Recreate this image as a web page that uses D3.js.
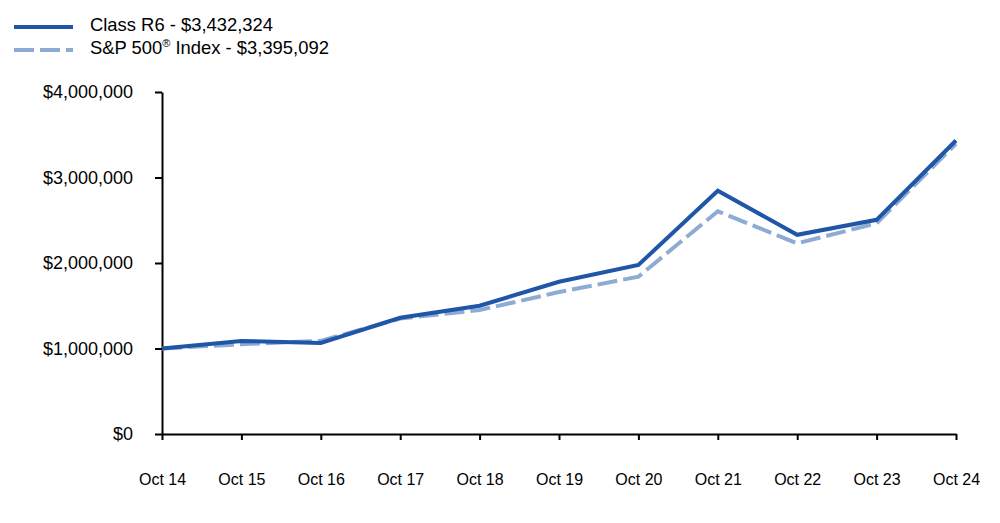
<!DOCTYPE html>
<html>
<head>
<meta charset="utf-8">
<script src="https://cdn.jsdelivr.net/npm/d3@7/dist/d3.min.js"></script>
<style>
  html, body { margin: 0; padding: 0; background: #fff; }
  svg { display: block; font-family: "Liberation Sans", Arial, sans-serif; }
</style>
</head>
<body>
<svg id="chart" width="1000" height="523"></svg>
<script>
const categories = ["Oct 14","Oct 15","Oct 16","Oct 17","Oct 18","Oct 19","Oct 20","Oct 21","Oct 22","Oct 23","Oct 24"];
const classR6 = [1000000, 1088000, 1064000, 1360000, 1500000, 1780000, 1977000, 2845000, 2330000, 2505000, 3432324];
const sp500 = [1000000, 1050000, 1090000, 1350000, 1450000, 1660000, 1840000, 2605000, 2230000, 2465000, 3395092];
const yTicks = [0, 1000000, 2000000, 3000000, 4000000];
const seriesNames = ["Class R6 - $3,432,324", "S&P 500\u00AE Index - $3,395,092"];

const svg = d3.select("#chart");
const margin = {left: 162, right: 44, top: 92, bottom: 89};
const W = 1000, H = 523;

const x = d3.scalePoint().domain(categories).range([margin.left, W - margin.right]);
const y = d3.scaleLinear().domain([0, 4000000]).range([H - margin.bottom, margin.top]);

const fmt = v => "$" + d3.format(",")(v);

// y axis
const yAxis = svg.append("g")
  .attr("transform", `translate(${margin.left},0)`)
  .call(d3.axisLeft(y).tickValues(yTicks).tickFormat(fmt).tickSize(7).tickPadding(22).tickSizeOuter(0));
yAxis.select(".domain").attr("stroke", "#000").attr("stroke-width", 2);
yAxis.selectAll(".tick line").attr("stroke", "#000").attr("stroke-width", 2);
yAxis.selectAll(".tick text").attr("font-size", 18).attr("fill", "#000").attr("font-family", "Liberation Sans, Arial, sans-serif");

// x axis
const xAxis = svg.append("g")
  .attr("transform", `translate(0,${y(0)})`)
  .call(d3.axisBottom(x).tickSize(6).tickPadding(34).tickSizeOuter(0));
xAxis.select(".domain").attr("stroke", "#000").attr("stroke-width", 2);
xAxis.selectAll(".tick line").attr("stroke", "#000").attr("stroke-width", 2);
xAxis.selectAll(".tick text").attr("font-size", 16).attr("fill", "#000").attr("font-family", "Liberation Sans, Arial, sans-serif");

const line = d3.line().x((d, i) => x(categories[i])).y(d => y(d));

svg.append("path").datum(sp500)
  .attr("fill", "none").attr("stroke", "#8eabd6").attr("stroke-width", 4)
  .attr("stroke-dasharray", "20,6").attr("d", line);

svg.append("path").datum(classR6)
  .attr("fill", "none").attr("stroke", "#1f56a8").attr("stroke-width", 4)
  .attr("stroke-linejoin", "miter").attr("d", line);

// legend
const leg = svg.append("g");
const items = [
  {name: seriesNames[0], color: "#1f56a8", dash: null, y: 27},
  {name: seriesNames[1], color: "#8eabd6", dash: "20,6", y: 50}
];
items.forEach(it => {
  leg.append("line").attr("x1", 14).attr("x2", 73).attr("y1", it.y).attr("y2", it.y)
    .attr("stroke", it.color).attr("stroke-width", 4)
    .attr("stroke-dasharray", it.dash);
});
leg.append("text").attr("x", 90).attr("y", 30.5)
  .attr("font-size", 18.4).attr("fill", "#000").text(seriesNames[0]);
const t2 = leg.append("text").attr("x", 90).attr("y", 53.5)
  .attr("font-size", 18.4).attr("fill", "#000");
t2.append("tspan").text("S&P 500");
t2.append("tspan").attr("font-size", 11).attr("dy", -7).text("\u00AE");
t2.append("tspan").attr("dy", 7).text(" Index - $3,395,092");
</script>
</body>
</html>
